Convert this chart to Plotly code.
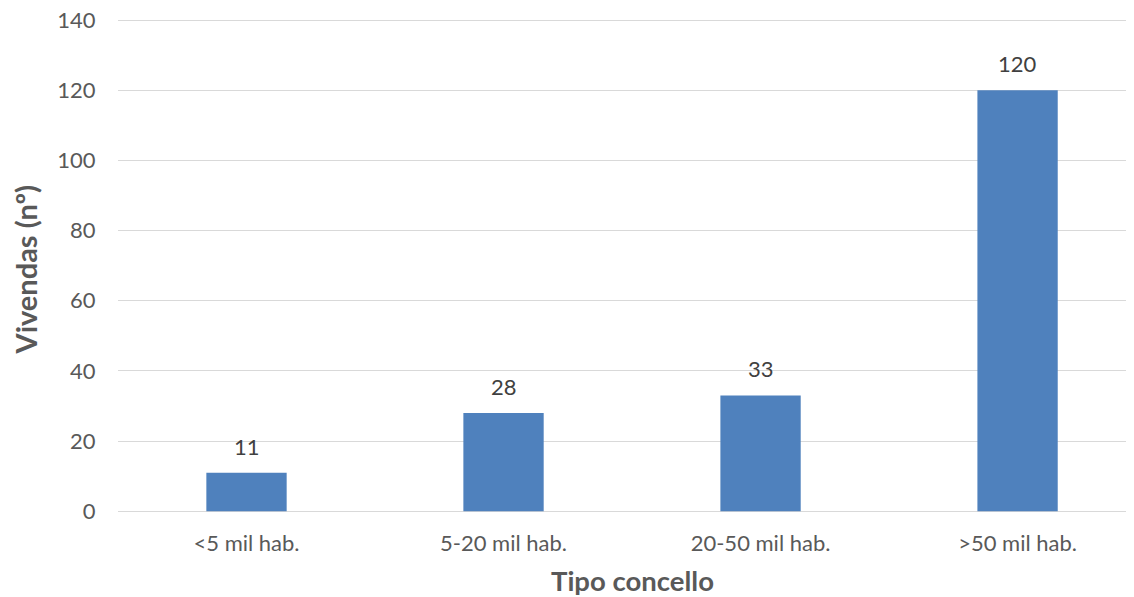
import plotly.graph_objects as go

categories = ["<5 mil hab.", "5-20 mil hab.", "20-50 mil hab.", ">50 mil hab."]
values = [11, 28, 33, 120]
y_ticks = [0, 20, 40, 60, 80, 100, 120, 140]
x_title = "Tipo concello"
y_title = "Vivendas (nº)"

FONT = "Lato"
fig = go.Figure()
fig.add_trace(go.Bar(
    x=list(range(len(categories))), y=values, width=0.3125,
    marker=dict(color="#4F81BD", line=dict(width=0)),
    hoverinfo="skip",
))
for i, v in enumerate(values):
    fig.add_annotation(x=i, y=v, text=str(v), showarrow=False, yanchor="bottom",
                       yshift=11, font=dict(family=FONT, size=22, color="#404040"))

# plot area: 0 at image y=512, 140 at image y=20 (figure is offset by 8px in page)
fig.add_annotation(xref="paper", yref="paper", x=0.506, y=-0.137, yanchor="middle",
                   text="<b>" + x_title + "</b>", showarrow=False,
                   font=dict(family=FONT, size=27.5, color="#595959"))
fig.add_annotation(xref="paper", yref="paper", x=-0.0915, y=0.492, xanchor="center",
                   yanchor="middle", textangle=-90,
                   text="<b>" + y_title + "</b>", showarrow=False,
                   font=dict(family=FONT, size=29, color="#595959"))

fig.update_layout(
    width=1126, height=589,
    margin=dict(l=110, r=0, t=10, b=84),
    paper_bgcolor="white", plot_bgcolor="white",
    showlegend=False,
    font=dict(family=FONT, color="#595959"),
    xaxis=dict(
        range=[-0.5, 3.453], tickmode="array", tickvals=list(range(len(categories))),
        ticktext=categories, showgrid=False, zeroline=False, showline=False,
        automargin=False, ticklabeloverflow="allow",
        tickfont=dict(size=22, color="#595959"), ticks="outside", ticklen=11, tickcolor="rgba(0,0,0,0)",
    ),
    yaxis=dict(
        range=[-0.5, 140.6], tickmode="array", tickvals=y_ticks, showgrid=True,
        gridcolor="#D9D9D9", gridwidth=1.3, zeroline=False, showline=False,
        automargin=False, ticklabeloverflow="allow",
        tickfont=dict(size=22, color="#595959"), ticks="outside", ticklen=17, tickcolor="rgba(0,0,0,0)",
    ),
)
fig.write_html("out.html")
